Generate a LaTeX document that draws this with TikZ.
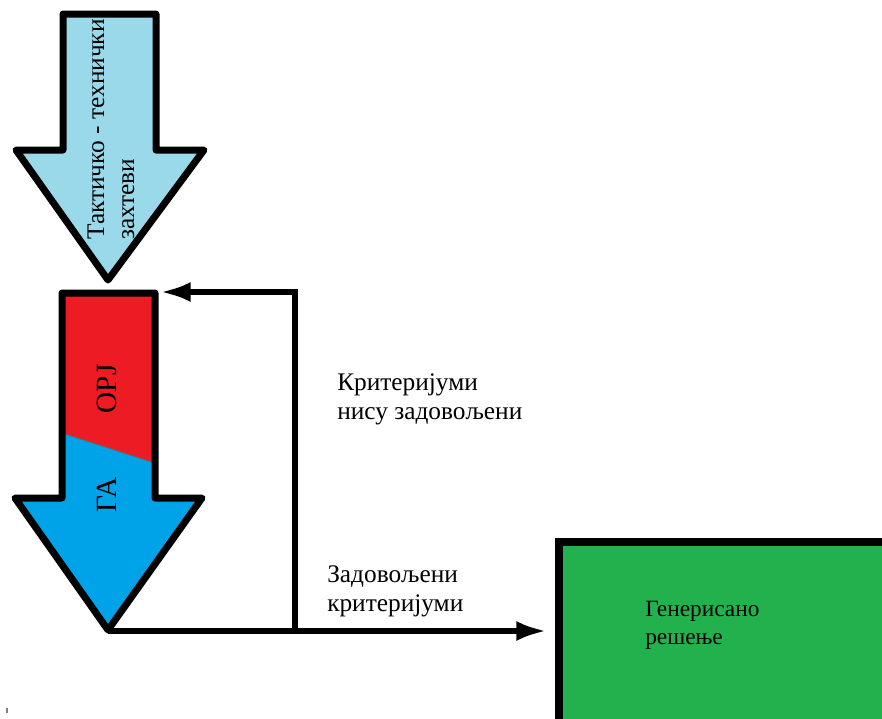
\documentclass[tikz,border=0pt]{standalone}
\usepackage{fontspec}
\setmainfont{LiberationSerif}[Extension=.ttf, UprightFont=*-Regular, BoldFont=*-Bold]
\usetikzlibrary{arrows.meta}

\definecolor{reqblue}{HTML}{99D9EA}
\definecolor{orjred}{HTML}{ED1C24}
\definecolor{gablue}{HTML}{00A2E8}
\definecolor{solgreen}{HTML}{22B14C}

\tikzset{
  bigarrow/.style={draw=black, line width=5.25pt, line join=round},
  flow/.style={line width=4.5pt, -{Latex[length=23pt,width=15pt]}},
  note/.style={anchor=north west, inner sep=0pt, align=left, font=\fontsize{19}{21.75}\selectfont},
  tag/.style={rotate=90, inner sep=0pt, font=\fontsize{22}{26}\selectfont},
}

\begin{document}
\begin{tikzpicture}[x=0.75pt, y=-0.75pt]
        \useasboundingbox (0,0) rectangle (882,718);
        \clip (0,0) rectangle (882,718);

        % Requirements arrow on top
        \draw[bigarrow, fill=reqblue] (63,14) -- (156,14) -- (156,150) -- (204,150)
            -- (108,280) -- (16,150) -- (63,150) -- cycle;
        \node[rotate=90, anchor=west, inner sep=0pt, align=left,
              font=\fontsize{19}{22.5}\selectfont] (req) at (111,240) {Тактичко - технички\\захтеви};

        % Algorithm arrow (ORJ part above, GA part below)
        \fill[gablue] (62,293) -- (155,293) -- (155,498) -- (202,498)
            -- (108,630) -- (15,498) -- (62,498) -- cycle;
        \fill[orjred] (62,293) -- (155,293) -- (155,463) -- (62,433) -- cycle;
        \draw[black!60, line width=0.75pt] (62,433) -- (155,463);
        \draw[bigarrow] (62,293) -- (155,293) -- (155,498) -- (202,498)
            -- (108,630) -- (15,498) -- (62,498) -- cycle;
        \node[tag] (orj) at (107,389) {ОРЈ};
        \node[tag] (ga) at (107,495) {ГА};

        % Result box
        \node[draw=black, fill=solgreen, line width=6pt, anchor=north west,
              minimum width=272pt, minimum height=140pt] (box) at (555,538) {};
        \node[anchor=north west, inner sep=0pt, align=left,
              font=\fontsize{17.5}{21}\selectfont] (sol) at (645,601) {Генерисано\\решење};

        % Connectors
        \coordinate (tip) at (108,631);
        \coordinate (branch) at (295,631);
        \coordinate (entry) at (160,292);
        \draw[flow, shorten >=6pt] (tip) -- (tip -| box.west);
        \draw[flow] (branch) -- (branch |- entry) -- (entry);

        % Labels
        \node[note] (fail) at (337,373.5) {Критеријуми\\нису задовољени};
        \node[note] (pass) at (327,565) {Задовољени\\критеријуми};

        % small mark in the corner
        \draw[gray, line width=1pt] (7,708) -- (7,713);
\end{tikzpicture}
\end{document}
